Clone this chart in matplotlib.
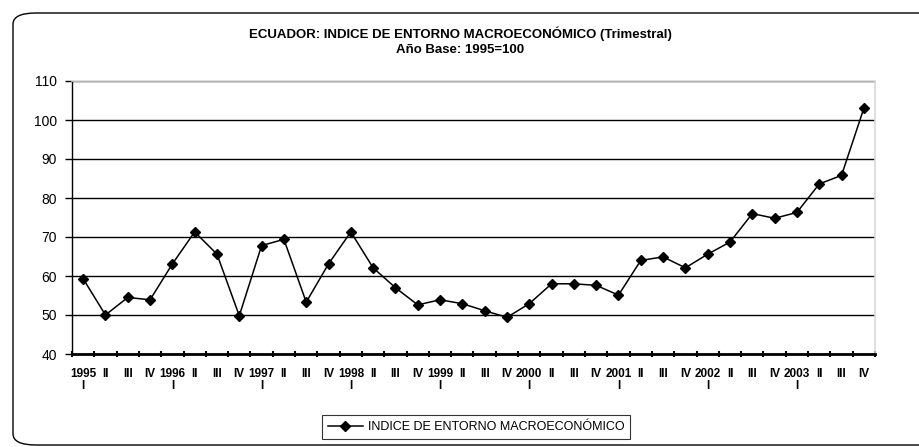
import matplotlib
matplotlib.use("Agg")
import matplotlib.pyplot as plt
from matplotlib.patches import FancyBboxPatch

plt.rcParams['font.family'] = ['Liberation Sans', 'DejaVu Sans']

years = ["1995", "1996", "1997", "1998", "1999", "2000", "2001", "2002", "2003"]
quarters = ["I", "II", "III", "IV"]
values = [59.3, 50.0, 54.5, 53.9, 63.1, 71.3, 65.6, 49.8,
          67.8, 69.4, 53.3, 63.1, 71.3, 62.1, 57.0, 52.6,
          53.9, 52.9, 51.1, 49.4, 52.9, 58.0, 58.0, 57.6,
          55.1, 64.0, 64.9, 62.1, 65.6, 68.7, 76.0, 74.8,
          76.3, 83.6, 85.8, 103.0]
series_name = "INDICE DE ENTORNO MACROECONÓMICO"
title = "ECUADOR: INDICE DE ENTORNO MACROECONÓMICO (Trimestral)\nAño Base: 1995=100"

labels = []
for y in years:
    for q in quarters:
        labels.append(f"{y}\n{q}" if q == "I" else q)

W, H = 919, 447
fig = plt.figure(figsize=(W / 100, H / 100), dpi=100)

# outer rounded frame
frame = FancyBboxPatch((13 / W, 2 / H), (W + 20) / W, (H - 15) / H,
                       boxstyle="round,pad=0,rounding_size=0.025",
                       transform=fig.transFigure, fill=False,
                       edgecolor="black", linewidth=1.0, clip_on=False)
fig.patches.append(frame)

ax = fig.add_axes([72 / W, 1 - 354 / H, (875 - 72) / W, (354 - 81) / H])
n = len(values)
x = list(range(n))
ax.plot(x, values, color="black", linewidth=1.1, marker="D", markersize=5,
        markerfacecolor="black", markeredgecolor="black", label=series_name,
        zorder=3)

ax.set_xlim(-0.5, n - 0.5)
ax.set_ylim(40, 110)
ax.set_yticks(range(40, 111, 10))
ax.tick_params(axis="y", labelsize=10, length=5, width=1, direction="out", pad=6)

ax.set_xticks(x)
ax.set_xticklabels(labels, fontsize=8.5, fontweight="bold", linespacing=1.0)
ax.tick_params(axis="x", which="major", length=0, pad=10)
ax.set_xticks([i - 0.5 for i in range(n + 1)], minor=True)
ax.tick_params(axis="x", which="minor", length=5, width=1.5, direction="inout")

ax.set_axisbelow(True)
ax.yaxis.grid(True, color="black", linewidth=1.0)
for s in ["top", "right"]:
    ax.spines[s].set_color("#d9d9d9")
    ax.spines[s].set_linewidth(1.2)
ax.spines["left"].set_linewidth(1.0)
ax.spines["bottom"].set_linewidth(2.0)

fig.text(460 / W, 1 - 41.5 / H, title, ha="center", va="center",
         fontsize=9.5, fontweight="bold", linespacing=1.35)

leg = fig.legend(loc="center", bbox_to_anchor=(476 / W, 1 - 427 / H),
                 fontsize=9, frameon=True, fancybox=False, edgecolor="black",
                 handlelength=2.8, borderpad=0.45, handletextpad=0.4)
leg.get_frame().set_linewidth(0.8)

fig.savefig("out.png", dpi=100)
